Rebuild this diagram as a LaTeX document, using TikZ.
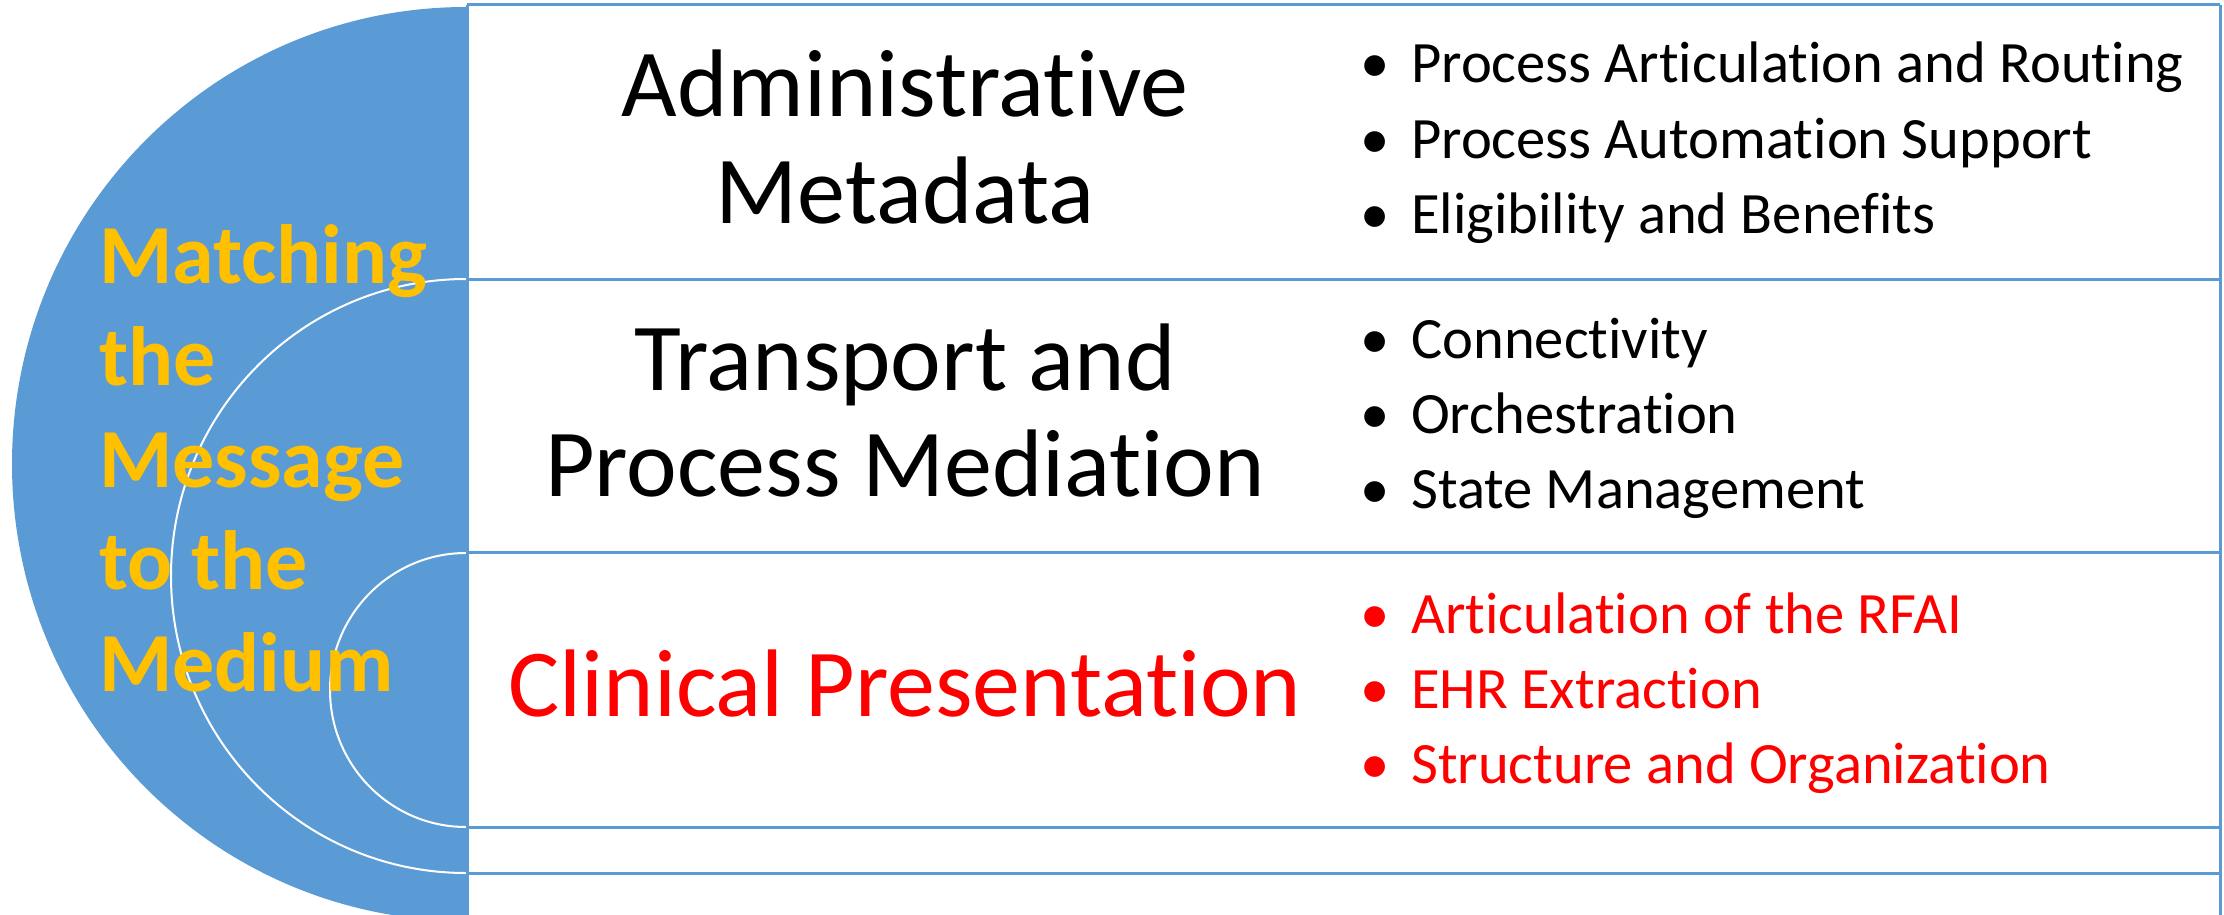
\documentclass[tikz,border=0pt]{standalone}
\usepackage{fontspec}
\setmainfont[Ligatures={NoCommon,NoRequired,NoContextual},Contextuals={NoAlternate}]{Carlito}
\definecolor{mblue}{HTML}{5B9BD5}
\definecolor{gold}{HTML}{FFC000}
\definecolor{mred}{HTML}{FF0000}
\newcommand\itm[1]{\makebox[51pt][l]{\textbullet}#1}
\newcommand\ti{t\kern0pt i}
\begin{document}
\begin{tikzpicture}[x=1pt,y=-1pt,
  head/.style={font=\fontsize{96}{106}\selectfont, anchor=base, inner sep=0},
  item/.style={font=\fontsize{58.6}{75}\selectfont, anchor=base west, inner sep=0},
  side/.style={font=\fontsize{84}{102}\selectfont\bfseries, text=gold, anchor=base west, inner sep=0},
  grid/.style={draw=mblue, line width=3pt},
  arcline/.style={draw=white, line width=2pt}]
\useasboundingbox (0,0) rectangle (2224,915);
\begin{scope}
  \clip (0,0) rectangle (467,915);
  \fill[mblue] (466,464) ellipse [x radius=454, y radius=457];
  \path[arcline] (466,576) ellipse [x radius=295, y radius=297];
  \path[arcline] (466,690) ellipse [x radius=136, y radius=137];
\end{scope}
% table
\path[grid] (467,5) -- (2220,5);
\path[grid] (467,279) -- (2220,279);
\path[grid] (467,552) -- (2220,552);
\path[grid] (467,827) -- (2220,827);
\path[grid] (467,873) -- (2220,873);
\path[grid] (467,5) -- (467,915);
\path[grid] (2220,5) -- (2220,915);
% side text
\node[side] (s1) at (99,283) {Matching};
\node[side] (s2) at (99,385) {the};
\node[side] (s3) at (99,487) {Message};
\node[side] (s4) at (99,589) {to the};
\node[side] (s5) at (99,691) {Medium};
% headings
\node[head] (h1a) at (905,117) {Administra\ti ve};
\node[head] (h1b) at (905,223) {Metadata};
\node[head] (h2a) at (905,390) {Transport and};
\node[head] (h2b) at (905,496) {Process Media\ti on};
\node[head, text=mred] (h3) at (905,716) {Clinical Presenta\ti on};
% items
\node[item] (i11) at (1360,83) {\itm{Process Ar\ti culation and Rou\ti ng}};
\node[item] (i12) at (1360,158) {\itm{Process Automa\ti on Support}};
\node[item] (i13) at (1360,233) {\itm{Eligibility and Benefits}};
\node[item] (i21) at (1360,358) {\itm{Connec\ti vity}};
\node[item] (i22) at (1360,433) {\itm{Orchestra\ti on}};
\node[item] (i23) at (1360,508) {\itm{State Management}};
\node[item, text=mred] (i31) at (1360,633) {\itm{Ar\ti culation of the RFAI}};
\node[item, text=mred] (i32) at (1360,708) {\itm{EHR Extrac\ti on}};
\node[item, text=mred] (i33) at (1360,783) {\itm{Structure and Organiza\ti on}};
\end{tikzpicture}
\end{document}
